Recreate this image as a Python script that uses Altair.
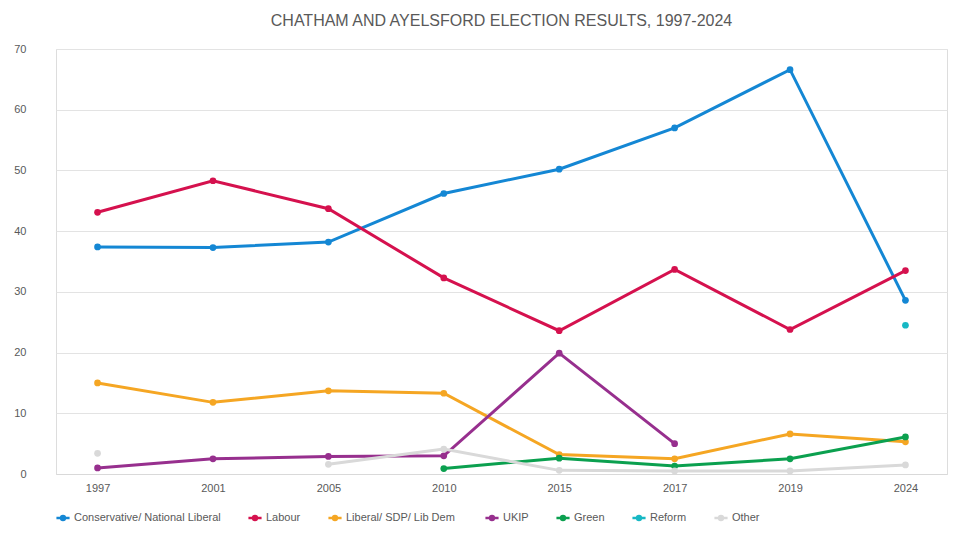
import pandas as pd
import altair as alt

years = ["1997", "2001", "2005", "2010", "2015", "2017", "2019", "2024"]
parties = ["Conservative/ National Liberal", "Labour", "Liberal/ SDP/ Lib  Dem",
           "UKIP", "Green", "Reform", "Other"]
colors = ["#1487d4", "#d5114e", "#f5a623", "#972f8e", "#0ba04f", "#17b8c4", "#d9d9d9"]

con = [37.4, 37.3, 38.2, 46.2, 50.2, 57.0, 66.6, 28.6]
lab = [43.1, 48.3, 43.7, 32.3, 23.6, 33.7, 23.8, 33.5]
lib = [15.0, 11.8, 13.7, 13.3, 3.2, 2.5, 6.6, 5.3]
ukip = [1.0, 2.5, 2.9, 3.0, 19.9, 5.0, None, None]
green = [None, None, None, 0.9, 2.6, 1.3, 2.5, 6.1]
reform = [None, None, None, None, None, None, None, 24.5]
other = [3.4, None, 1.6, 4.1, 0.6, 0.5, 0.5, 1.5]

rows = []
for party, vals in zip(parties, [con, lab, lib, ukip, green, reform, other]):
    seg = 0
    for y, v in zip(years, vals):
        if v is None:
            seg += 1
            continue
        rows.append({"year": y, "party": party, "value": v, "seg": f"{party}-{seg}"})
df = pd.DataFrame(rows)

legend_shape = "M-1.2,0H1.2M0.35,0A0.35,0.35,0,1,1,-0.35,0A0.35,0.35,0,1,1,0.35,0"

base = alt.Chart(df).encode(
    x=alt.X("year:O", title=None, sort=years,
            scale=alt.Scale(type="point", padding=0.36),
            axis=alt.Axis(labelAngle=0, domainColor="#d9d9d9", ticks=False,
                          labelColor="#595959", labelFontSize=11, labelPadding=8)),
    y=alt.Y("value:Q", title=None, scale=alt.Scale(domain=[0, 70]),
            axis=alt.Axis(values=list(range(0, 71, 10)), domain=False, ticks=False,
                          gridColor="#e3e3e3", labelColor="#595959", labelFontSize=11,
                          labelPadding=30)),
    color=alt.Color("party:N", sort=parties,
                    scale=alt.Scale(domain=parties, range=colors),
                    legend=alt.Legend(orient="bottom", direction="horizontal", title=None,
                                      symbolType=legend_shape, symbolStrokeWidth=2.5,
                                      symbolSize=120, labelFontSize=11,
                                      labelColor="#595959", columnPadding=22)),
    detail="seg:N",
)

chart = (base.mark_line(strokeWidth=3) + base.mark_circle(size=45, opacity=1)).properties(
    width=944, height=522,
    autosize=alt.AutoSizeParams(type="fit", contains="padding"),
    title=alt.Title("CHATHAM AND AYELSFORD ELECTION RESULTS, 1997-2024", fontSize=16,
                    fontWeight="normal", color="#595959", font="Liberation Sans",
                    offset=14),
).configure_view(stroke=None).configure(font="Liberation Sans")

chart.save("out.html", embed_options={"renderer": "svg", "actions": False})
